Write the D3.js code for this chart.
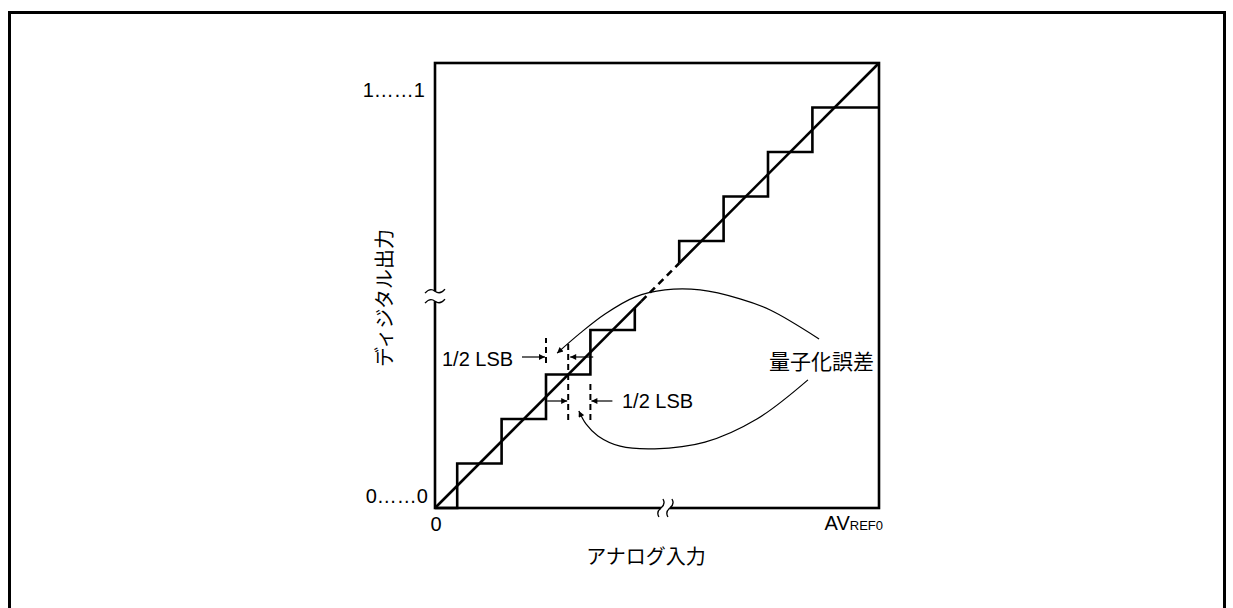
<!DOCTYPE html>
<html><head><meta charset="utf-8">
<script src="https://cdn.jsdelivr.net/npm/d3@7"></script>
<style>html,body{margin:0;padding:0;background:#fff;}svg{display:block;}</style>
</head><body>
<svg id="c" width="1233" height="608"></svg>
<script>
// ---- data (in LSB units, full scale = 10 LSB) ----
const fullScale = [0, 10];
const lowerThresholds = [0.5, 1.5, 2.5, 3.5, 4.5];
const lowerCodes = [1, 2, 3, 4, 4.5];
const upperThresholds = [5.5, 6.5, 7.5, 8.5, 10];
const upperCodes = [5.5, 6, 7, 8, 9];
const idealSolid1 = [0, 4.65];
const idealDashed = [4.65, 5.5];
const idealSolid2 = [5.5, 10];
const yTickLabels = ["0……0", "1……1"];
const yTickPos = [0.12, 9.4];
const xTickLabels = ["0", "AV", "REF0"];
const xTitle = "アナログ入力";
const yTitle = "ディジタル出力";
const errLabel = "量子化誤差";
const lsbLabel = "1/2 LSB";
const lsbGuidesX = [2.5, 3.0, 3.5];
const lsbGuidesY = [[3.26, 3.82], [1.98, 3.73], [1.98, 2.81]];
const upperCallout = [[8.65,3.80],[7.55,4.45],[6.87,4.70],[5.97,4.90],[5.18,4.90],[4.50,4.74],[3.83,4.36],[3.27,3.93],[2.75,3.48]];
const lowerCallout = [[8.40,2.88],[7.25,2.00],[6.08,1.48],[4.95,1.33],[4.17,1.39],[3.67,1.62],[3.40,1.89],[3.24,2.18]];
const yBreak = 4.76, xBreak = 5.19;

const svg = d3.select("#c");
const x = d3.scaleLinear().domain(fullScale).range([435, 879]);
const y = d3.scaleLinear().domain(fullScale).range([508, 63]);
const latin = "'Liberation Sans', Arial, sans-serif";
const cjk = "'Noto Sans CJK JP', sans-serif";

// outer frame
svg.append("path").attr("d", "M9.5,612 L9.5,12.5 L1224.5,12.5 L1224.5,612")
  .attr("fill","none").attr("stroke","#000").attr("stroke-width",3);

// markers
const defs = svg.append("defs");
defs.append("marker").attr("id","ah").attr("viewBox","0 0 10 10")
  .attr("refX",10).attr("refY",5).attr("markerWidth",8).attr("markerHeight",6)
  .attr("markerUnits","userSpaceOnUse").attr("orient","auto")
  .append("path").attr("d","M0,0 L10,5 L0,10 z").attr("fill","#000");

const line = d3.line().x(d=>x(d[0])).y(d=>y(d[1]));

// plot box
svg.append("rect").attr("x",x(0)).attr("y",y(10)).attr("width",x(10)-x(0)).attr("height",y(0)-y(10))
  .attr("fill","none").attr("stroke","#000").attr("stroke-width",2.6);

// ideal line
svg.append("path").attr("d", line(idealSolid1.map(v=>[v,v]))).attr("stroke","#000").attr("stroke-width",2.6).attr("fill","none");
svg.append("path").attr("d", line(idealDashed.map(v=>[v,v]))).attr("stroke","#000").attr("stroke-width",2.6).attr("stroke-dasharray","7,5").attr("fill","none");
svg.append("path").attr("d", line(idealSolid2.map(v=>[v,v]))).attr("stroke","#000").attr("stroke-width",2.6).attr("fill","none");

// staircases
const lowerPts = [[0,0]].concat(lowerThresholds.map((t,i)=>[t, lowerCodes[i]]));
svg.append("path").attr("d", d3.line().x(d=>x(d[0])).y(d=>y(d[1])).curve(d3.curveStepAfter)(lowerPts))
  .attr("fill","none").attr("stroke","#000").attr("stroke-width",2.6);
const upperPts = upperThresholds.map((t,i)=>[t, upperCodes[i]]);
svg.append("path").attr("d", d3.line().x(d=>x(d[0])).y(d=>y(d[1])).curve(d3.curveStepBefore)(upperPts))
  .attr("fill","none").attr("stroke","#000").attr("stroke-width",2.6);

// axis breaks
const yb = y(yBreak);
svg.append("rect").attr("x",x(0)-3).attr("y",yb-5).attr("width",6).attr("height",10).attr("fill","#fff");
[-5,5].forEach(o=>{
  svg.append("path").attr("d",`M${x(0)-10},${yb+o+2} Q${x(0)-5},${yb+o-4} ${x(0)},${yb+o} T${x(0)+10},${yb+o-2}`)
    .attr("fill","none").attr("stroke","#000").attr("stroke-width",1.3);
});
const xb = x(xBreak);
svg.append("rect").attr("x",xb-4.5).attr("y",y(0)-3).attr("width",9).attr("height",6).attr("fill","#fff");
[-4.5,4.5].forEach(o=>{
  svg.append("path").attr("d",`M${xb+o+2},${y(0)-9} Q${xb+o+5},${y(0)-4} ${xb+o},${y(0)} T${xb+o-2},${y(0)+9}`)
    .attr("fill","none").attr("stroke","#000").attr("stroke-width",1.3);
});

// 1/2 LSB guides
lsbGuidesX.forEach((gx,i)=>{
  svg.append("line").attr("x1",x(gx)).attr("x2",x(gx)).attr("y1",y(lsbGuidesY[i][0])).attr("y2",y(lsbGuidesY[i][1]))
    .attr("stroke","#000").attr("stroke-width",2).attr("stroke-dasharray","6,4");
});
function arrow(x1,y1,x2,y2){
  svg.append("line").attr("x1",x1).attr("y1",y1).attr("x2",x2).attr("y2",y2)
    .attr("stroke","#000").attr("stroke-width",1.2).attr("marker-end","url(#ah)");
}
const ay1 = 357, ay2 = 401;
arrow(x(lsbGuidesX[0])-24, ay1, x(lsbGuidesX[0])-1, ay1);
arrow(x(lsbGuidesX[1])+25, ay1, x(lsbGuidesX[1])+2, ay1);
arrow(x(lsbGuidesX[1])-21, ay2, x(lsbGuidesX[1])-1, ay2);
arrow(x(lsbGuidesX[2])+22, ay2, x(lsbGuidesX[2])+1, ay2);
svg.append("text").attr("x",442).attr("y",ay1+2).attr("dominant-baseline","central")
  .attr("font-family",latin).attr("font-size",20).text(lsbLabel);
svg.append("text").attr("x",622).attr("y",ay2).attr("dominant-baseline","central")
  .attr("font-family",latin).attr("font-size",20).text(lsbLabel);

// quantization error callouts
const curve = d3.line().x(d=>x(d[0])).y(d=>y(d[1])).curve(d3.curveCatmullRom);
[upperCallout, lowerCallout].forEach(c=>{
  svg.append("path").attr("d",curve(c)).attr("fill","none").attr("stroke","#000").attr("stroke-width",1.2)
    .attr("marker-end","url(#ah)");
});
svg.append("text").attr("x",769).attr("y",360).attr("dominant-baseline","central")
  .attr("font-family",cjk).attr("font-size",21).text(errLabel);

// tick labels
svg.append("text").attr("x",428).attr("y",503).attr("text-anchor","end")
  .attr("font-family",latin).attr("font-size",20).text(yTickLabels[0]);
svg.append("text").attr("x",425).attr("y",97).attr("text-anchor","end")
  .attr("font-family",latin).attr("font-size",20).text(yTickLabels[1]);
svg.append("text").attr("x",x(0)+1).attr("y",531).attr("text-anchor","middle")
  .attr("font-family",latin).attr("font-size",20).text(xTickLabels[0]);
const av = svg.append("text").attr("x",x(10)+4).attr("y",530).attr("text-anchor","end").attr("font-family",latin);
av.append("tspan").attr("font-size",20).text(xTickLabels[1]);
av.append("tspan").attr("font-size",13).text(xTickLabels[2]);

// axis titles
svg.append("text").attr("x",646).attr("y",555).attr("text-anchor","middle").attr("dominant-baseline","central")
  .attr("font-family",cjk).attr("font-size",20).text(xTitle);
svg.append("text").attr("transform","translate(383,298) rotate(-90)").attr("text-anchor","middle").attr("dominant-baseline","central")
  .attr("font-family",cjk).attr("font-size",20).text(yTitle);
</script>
</body></html>
